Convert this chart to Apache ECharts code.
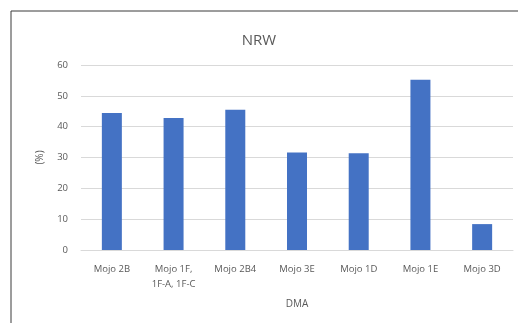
<!DOCTYPE html>
<html>
<head>
<meta charset="utf-8">
<script src="https://cdn.jsdelivr.net/npm/echarts@6/dist/echarts.min.js"></script>
<style>
  html, body { margin: 0; padding: 0; background: #fff; }
  #chart { width: 518px; height: 323px; }
</style>
</head>
<body>
<div id="chart"></div>
<script>
// DMA categories and their NRW percentages
const categories = ['Mojo 2B', 'Mojo 1F,\n1F-A, 1F-C', 'Mojo 2B4', 'Mojo 3E', 'Mojo 1D', 'Mojo 1E', 'Mojo 3D'];
const nrwValues = [44.4, 42.8, 45.5, 31.6, 31.4, 55.2, 8.4];
const yTicks = [0, 10, 20, 30, 40, 50, 60];

const textColor = '#595959';
const fontFamily = '"Open Sans", "Noto Sans", sans-serif';

const chart = echarts.init(document.getElementById('chart'), null, { renderer: 'canvas' });
chart.setOption({
  animation: false,
  backgroundColor: '#fff',
  textStyle: { fontFamily: fontFamily },
  graphic: [{
    type: 'rect',
    shape: { x: 11, y: 11, width: 540, height: 340 },
    style: { fill: 'none', stroke: '#3a3a3a', lineWidth: 1 },
    silent: true
  }],
  title: {
    text: 'NRW',
    left: 'center',
    top: 28,
    textStyle: { color: textColor, fontSize: 15, fontWeight: 'normal', fontFamily: fontFamily }
  },
  grid: { left: 81, right: 5, top: 65, bottom: 73, containLabel: false },
  xAxis: {
    type: 'category',
    data: categories,
    name: 'DMA',
    nameLocation: 'middle',
    nameGap: 49,
    nameTextStyle: { color: textColor, fontSize: 10 },
    axisLine: { show: true, lineStyle: { color: '#d9d9d9' } },
    axisTick: { show: false },
    axisLabel: { color: textColor, fontSize: 9.5, interval: 0, margin: 12, lineHeight: 15 }
  },
  yAxis: {
    type: 'value',
    min: yTicks[0],
    max: yTicks[yTicks.length - 1],
    interval: 10,
    name: '(%)',
    nameLocation: 'middle',
    nameGap: 36,
    nameRotate: 90,
    nameTextStyle: { color: textColor, fontSize: 10 },
    axisLine: { show: false },
    axisTick: { show: false },
    axisLabel: { color: textColor, fontSize: 9.5, margin: 13 },
    splitLine: { lineStyle: { color: '#d9d9d9', width: 1 } }
  },
  series: [{
    type: 'bar',
    data: nrwValues,
    barWidth: 20,
    itemStyle: { color: '#4472C4' }
  }]
});
</script>
</body>
</html>
